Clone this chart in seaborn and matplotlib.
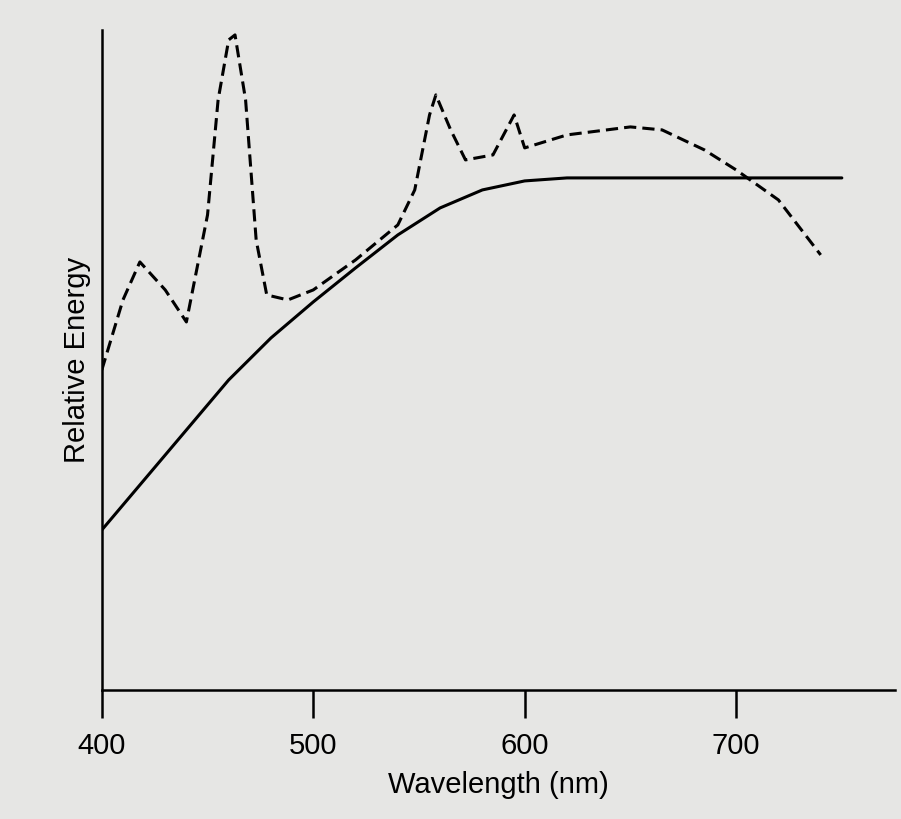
import matplotlib
matplotlib.use("Agg")
import matplotlib.pyplot as plt
import seaborn as sns
import pandas as pd

# curva continua (iluminante)
solid_wl = [400, 420, 440, 460, 480, 500, 520, 540, 560, 580, 600, 620, 650, 700, 750]
solid_e = [160, 210, 260, 310, 352, 388, 422, 455, 482, 500, 509, 512, 512, 512, 512]

# curva discontinua (fuente con picos)
dash_wl = [400, 410, 418, 430, 440, 450, 455, 460, 463, 468, 473, 478, 488, 500, 520, 540,
           548, 555, 558, 565, 572, 585, 595, 600, 620, 650, 665, 685, 700, 720, 740]
dash_e = [320, 390, 428, 400, 368, 475, 590, 650, 655, 590, 450, 395, 390, 400, 430, 465,
          500, 575, 595, 560, 530, 535, 575, 542, 555, 563, 560, 540, 520, 490, 435]

solid_df = pd.DataFrame({"wl": solid_wl, "e": solid_e})
dash_df = pd.DataFrame({"wl": dash_wl, "e": dash_e})

sns.set_style("white")
plt.rcParams["font.family"] = ["Liberation Sans", "DejaVu Sans"]

fig = plt.figure(figsize=(9.01, 8.19), dpi=100, facecolor="#e6e6e4")
ax = fig.add_axes([0.113, 0.1575, 0.88, 0.806])
ax.set_facecolor("#e6e6e4")

sns.lineplot(data=solid_df, x="wl", y="e", ax=ax, color="black", linewidth=2.2)
sns.lineplot(data=dash_df, x="wl", y="e", ax=ax, color="black", linewidth=2.2, linestyle=(0, (4, 2)))

ax.set_xlim(400, 775)
ax.set_ylim(0, 660)
ax.set_xticks([400, 500, 600, 700])
ax.set_yticks([])
ax.tick_params(axis="x", bottom=True, direction="out", length=20, width=1.8,
               labelsize=21, pad=10, colors="black")
for s in ["top", "right"]:
    ax.spines[s].set_visible(False)
for s in ["left", "bottom"]:
    ax.spines[s].set_color("black")
    ax.spines[s].set_linewidth(1.8)
ax.set_xlabel("Wavelength (nm)", fontsize=21, labelpad=8, color="black")
ax.set_ylabel("Relative Energy", fontsize=21, labelpad=8, color="black")

fig.savefig("out.png", dpi=100, facecolor=fig.get_facecolor())
